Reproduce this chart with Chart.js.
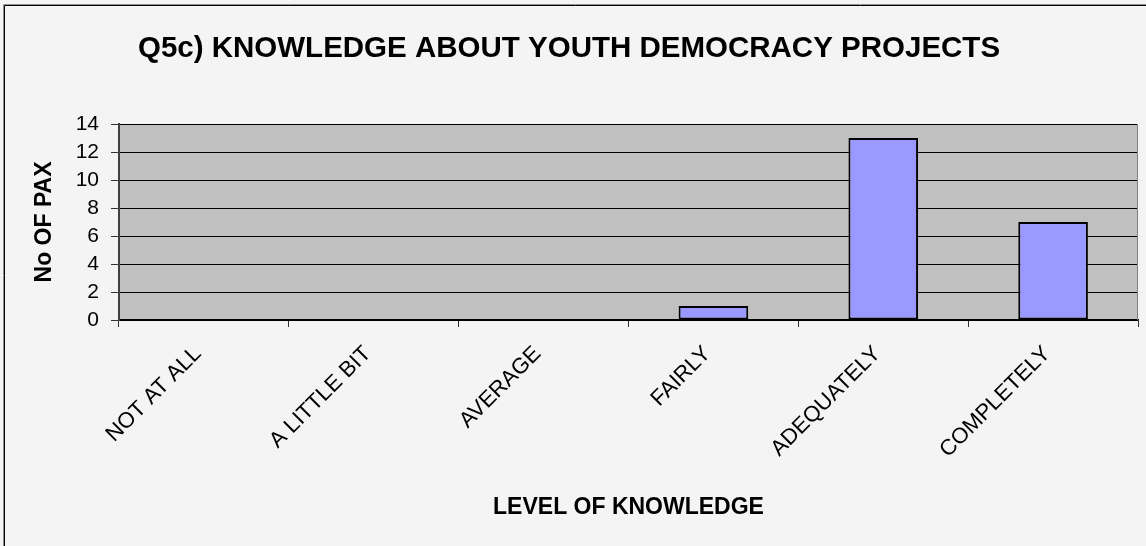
<!DOCTYPE html>
<html>
<head>
<meta charset="utf-8">
<script src="https://cdn.jsdelivr.net/npm/chart.js@4.4.0/dist/chart.umd.min.js"></script>
<style>
  html, body { margin: 0; padding: 0; background: #f4f4f4; }
  #chart { display: block; }
</style>
</head>
<body>
<canvas id="chart" width="1146" height="546"></canvas>
<script>
// data
const categories = ['NOT AT ALL', 'A LITTLE BIT', 'AVERAGE', 'FAIRLY', 'ADEQUATELY', 'COMPLETELY'];
const paxCounts = [0, 0, 0, 1, 13, 7];
const yMin = 0;
const yMax = 14;
const yStep = 2;

const chartTitle = 'Q5c) KNOWLEDGE ABOUT YOUTH DEMOCRACY PROJECTS';
const xTitle = 'LEVEL OF KNOWLEDGE';
const yTitle = 'No OF PAX';

const FONT = "'Liberation Sans', Arial, sans-serif";

// page frame + grey plot panel, drawn under the chart
const framePlugin = {
  id: 'framePlugin',
  beforeDraw(chart) {
    const ctx = chart.ctx;
    const a = chart.chartArea;
    ctx.save();
    ctx.fillStyle = '#f4f4f4';
    ctx.fillRect(0, 0, chart.width, chart.height);
    // outer border (only top + left fall inside the picture)
    ctx.strokeStyle = '#909090';
    ctx.lineWidth = 1;
    ctx.beginPath();
    ctx.moveTo(3.5, chart.height);
    ctx.lineTo(3.5, 4.5);
    ctx.lineTo(chart.width, 4.5);
    ctx.stroke();
    ctx.strokeStyle = '#000';
    ctx.beginPath();
    ctx.moveTo(4.5, chart.height);
    ctx.lineTo(4.5, 5.5);
    ctx.lineTo(chart.width, 5.5);
    ctx.stroke();
    // plot panel
    ctx.fillStyle = '#c0c0c0';
    ctx.fillRect(a.left, a.top, a.right - a.left, a.bottom - a.top);
    ctx.restore();
  },
  afterDatasetsDraw(chart) {
    const ctx = chart.ctx;
    const a = chart.chartArea;
    ctx.save();
    ctx.strokeStyle = '#808080';
    ctx.lineWidth = 1;
    ctx.beginPath();
    ctx.moveTo(Math.round(a.right) - 0.5, a.top);
    ctx.lineTo(Math.round(a.right) - 0.5, a.bottom);
    ctx.stroke();
    ctx.restore();
  }
};

new Chart(document.getElementById('chart').getContext('2d'), {
  type: 'bar',
  data: {
    labels: categories,
    datasets: [{
      label: yTitle,
      data: paxCounts,
      backgroundColor: '#9999ff',
      borderColor: '#000',
      borderWidth: 2,
      borderSkipped: false,
      barPercentage: 1,
      categoryPercentage: 0.41
    }]
  },
  options: {
    responsive: false,
    animation: false,
    layout: { padding: { left: 0, right: 8, top: 0, bottom: 0 } },
    plugins: {
      legend: { display: false },
      tooltip: { enabled: false },
      title: {
        display: true,
        text: chartTitle,
        color: '#000',
        font: { family: FONT, size: 29.5, weight: 'bold', lineHeight: 1.2 },
        padding: { top: 31, bottom: 57.6 }
      }
    },
    scales: {
      x: {
        afterFit(scale) { scale.height = 226; },
        grid: {
          offset: true,
          drawOnChartArea: false,
          drawTicks: true,
          tickLength: 7,
          color: '#333'
        },
        border: { display: true, color: '#000', width: 1.5 },
        ticks: {
          color: '#000',
          minRotation: 45,
          maxRotation: 45,
          autoSkip: false,
          padding: 14,
          labelOffset: -6,
          font: { family: FONT, size: 22 }
        },
        title: {
          display: true,
          text: xTitle,
          color: '#000',
          font: { family: FONT, size: 23, weight: 'bold', lineHeight: 1.2 },
          padding: { top: 0, bottom: 25 }
        }
      },
      y: {
        min: yMin,
        max: yMax,
        afterFit(scale) { scale.width = 119; },
        grid: {
          color: '#000',
          lineWidth: 1,
          drawTicks: true,
          tickLength: 8,
          tickColor: '#333'
        },
        border: { display: true, color: '#404040', width: 2 },
        ticks: {
          stepSize: yStep,
          autoSkip: false,
          color: '#000',
          padding: 12,
          font: { family: FONT, size: 21 }
        },
        title: {
          display: true,
          text: yTitle,
          color: '#000',
          font: { family: FONT, size: 23, weight: 'bold', lineHeight: 1.2 },
          padding: { top: 31, bottom: 0 }
        }
      }
    }
  },
  plugins: [framePlugin]
});
</script>
</body>
</html>
